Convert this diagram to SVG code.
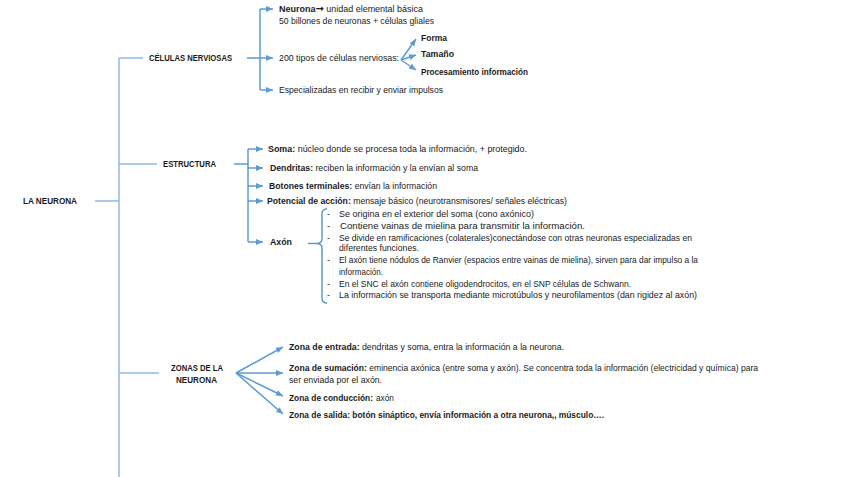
<svg xmlns="http://www.w3.org/2000/svg" width="848" height="477" viewBox="0 0 848 477">
<defs>
<marker id="ah" markerUnits="userSpaceOnUse" markerWidth="7" markerHeight="6" refX="7" refY="3" orient="auto">
<path d="M0,0 L7,3 L0,6 z" fill="#5B9BD5"/>
</marker>
<style>
text{font-family:"Liberation Sans",Arial,sans-serif;font-size:9px;fill:#1a1a1a}
.b{font-weight:bold}
.h{font-weight:bold}
.arr{font-family:"DejaVu Sans",sans-serif;font-weight:bold;font-size:10px}
.trunk{stroke:#8FBBE6;stroke-width:1.5;fill:none}
.c{stroke:#5B9BD5;stroke-width:1.5;fill:none}
.a{stroke:#5B9BD5;stroke-width:1.5;fill:none;marker-end:url(#ah)}
</style>
</defs>
<rect width="848" height="477" fill="#ffffff"/>

<g id="connectors">
<path class="trunk" d="M119,58 L119,477 M119,58 L143,58 M95,201 L119,201 M119,164 L157,164 M119,373 L159,373"/>
<path class="c" d="M247,58 L260,58 M260,9 L260,90"/>
<line class="a" x1="260" y1="9" x2="273" y2="9"/>
<line class="a" x1="260" y1="58" x2="273" y2="58"/>
<line class="a" x1="260" y1="90" x2="273" y2="90"/>
<line class="a" x1="401" y1="60" x2="416" y2="39"/>
<line class="a" x1="401" y1="60" x2="416" y2="55"/>
<line class="a" x1="401" y1="60" x2="416" y2="70"/>
<path class="c" d="M234,164 L248,164 M248,149 L248,242"/>
<line class="a" x1="248" y1="149" x2="263" y2="149"/>
<line class="a" x1="248" y1="168" x2="263" y2="168"/>
<line class="a" x1="248" y1="186" x2="263" y2="186"/>
<line class="a" x1="248" y1="201" x2="263" y2="201"/>
<line class="a" x1="248" y1="242" x2="263" y2="242"/>
<path class="c" d="M327,209 Q322,209 322,214 L322,239 Q322,243.5 316,243.5 L308,243.5 M316,243.5 Q322,243.5 322,248 L322,298 Q322,303 327,303" stroke-width="1.3"/>
<line class="a" x1="236" y1="373" x2="283" y2="347"/>
<line class="a" x1="236" y1="373" x2="283" y2="373"/>
<line class="a" x1="236" y1="373" x2="283" y2="396"/>
<line class="a" x1="236" y1="373" x2="283" y2="414"/>
</g>

<g id="la-neurona"><text class="h" x="23" y="204" textLength="54" lengthAdjust="spacingAndGlyphs">LA NEURONA</text></g>

<g id="celulas-nerviosas"><text class="h" x="149" y="61" textLength="83" lengthAdjust="spacingAndGlyphs">CÉLULAS NERVIOSAS</text></g>
<g id="neurona-unidad">
<text x="279" y="12" textLength="144" lengthAdjust="spacingAndGlyphs"><tspan class="b">Neurona</tspan><tspan class="arr">→</tspan> unidad elemental básica</text>
<text x="279" y="24" textLength="155" lengthAdjust="spacingAndGlyphs">50 billones de neuronas + células gliales</text>
</g>
<g id="tipos"><text x="279" y="61" textLength="120" lengthAdjust="spacingAndGlyphs">200 tipos de células nerviosas:</text></g>
<g id="forma"><text class="b" x="421" y="41" textLength="26" lengthAdjust="spacingAndGlyphs">Forma</text></g>
<g id="tamano"><text class="b" x="421" y="57" textLength="33" lengthAdjust="spacingAndGlyphs">Tamaño</text></g>
<g id="procesamiento"><text class="b" x="421" y="75" textLength="107" lengthAdjust="spacingAndGlyphs">Procesamiento información</text></g>
<g id="especializadas"><text x="279" y="93" textLength="164" lengthAdjust="spacingAndGlyphs">Especializadas en recibir y enviar impulsos</text></g>

<g id="estructura"><text class="h" x="163" y="167" textLength="53" lengthAdjust="spacingAndGlyphs">ESTRUCTURA</text></g>
<g id="soma"><text x="268" y="152" textLength="259" lengthAdjust="spacingAndGlyphs"><tspan class="b">Soma:</tspan> núcleo donde se procesa toda la información, + protegido.</text></g>
<g id="dendritas"><text x="270" y="171" textLength="208" lengthAdjust="spacingAndGlyphs"><tspan class="b">Dendritas:</tspan> reciben la información y la envían al soma</text></g>
<g id="botones"><text x="269" y="189" textLength="168" lengthAdjust="spacingAndGlyphs"><tspan class="b">Botones terminales:</tspan> envían la información</text></g>
<g id="potencial"><text x="267" y="204" textLength="300" lengthAdjust="spacingAndGlyphs"><tspan class="b">Potencial de acción:</tspan> mensaje básico (neurotransmisores/ señales eléctricas)</text></g>
<g id="axon"><text class="b" x="270" y="245" textLength="22" lengthAdjust="spacingAndGlyphs">Axón</text></g>
<g id="axon-lista">
<text x="327" y="217">-</text><text x="339" y="217" textLength="195" lengthAdjust="spacingAndGlyphs">Se origina en el exterior del soma (cono axónico)</text>
<text x="327" y="229">-</text><text x="340" y="229" textLength="245" lengthAdjust="spacingAndGlyphs">Contiene vainas de mielina para transmitir la información.</text>
<text x="327" y="241">-</text><text x="339" y="241" textLength="353" lengthAdjust="spacingAndGlyphs">Se divide en ramificaciones (colaterales)conectándose con otras neuronas especializadas en</text>
<text x="339" y="251" textLength="80" lengthAdjust="spacingAndGlyphs">diferentes funciones.</text>
<text x="327" y="263">-</text><text x="339" y="263" textLength="359" lengthAdjust="spacingAndGlyphs">El axón tiene nódulos de Ranvier (espacios entre vainas de mielina), sirven para dar impulso a la</text>
<text x="339" y="275" textLength="44" lengthAdjust="spacingAndGlyphs">información.</text>
<text x="327" y="287">-</text><text x="339" y="287" textLength="292" lengthAdjust="spacingAndGlyphs">En el SNC el axón contiene oligodendrocitos, en el SNP células de Schwann.</text>
<text x="327" y="298">-</text><text x="339" y="298" textLength="358" lengthAdjust="spacingAndGlyphs">La información se transporta mediante microtúbulos y neurofilamentos (dan rigidez al axón)</text>
</g>

<g id="zonas">
<text class="h" x="171" y="371" textLength="52" lengthAdjust="spacingAndGlyphs">ZONAS DE LA</text>
<text class="h" x="176" y="383" textLength="41" lengthAdjust="spacingAndGlyphs">NEURONA</text>
</g>
<g id="zona-entrada"><text x="289" y="350" textLength="275" lengthAdjust="spacingAndGlyphs"><tspan class="b">Zona de entrada:</tspan> dendritas y soma, entra la información a la neurona.</text></g>
<g id="zona-sumacion">
<text x="289" y="371" textLength="469" lengthAdjust="spacingAndGlyphs"><tspan class="b">Zona de sumación:</tspan> eminencia axónica (entre soma y axón). Se concentra toda la información (electricidad y química) para</text>
<text x="289" y="383" textLength="93" lengthAdjust="spacingAndGlyphs">ser enviada por el axón.</text>
</g>
<g id="zona-conduccion">
<text class="b" x="289" y="401" style="font-size:8.6px" textLength="84" lengthAdjust="spacingAndGlyphs">Zona de conducción:</text>
<text x="376" y="401" textLength="18" lengthAdjust="spacingAndGlyphs">axón</text>
</g>
<g id="zona-salida"><text class="b" x="289" y="418" textLength="315" lengthAdjust="spacingAndGlyphs">Zona de salida: botón sináptico, envía información a otra neurona,, músculo….</text></g>
</svg>
